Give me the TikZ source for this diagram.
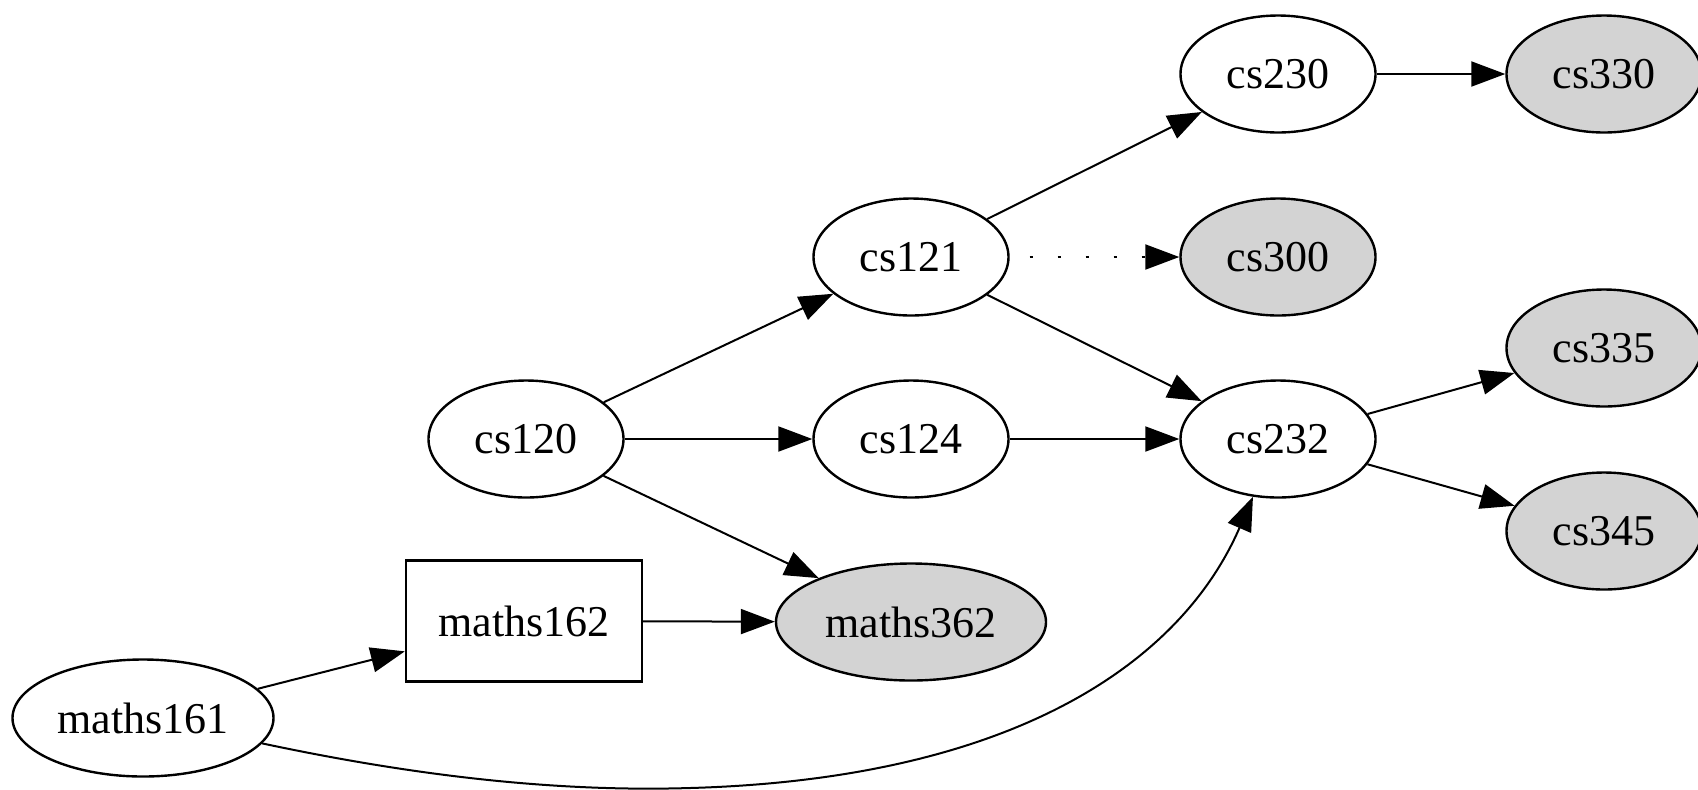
\documentclass[tikz,border=0pt]{standalone}
\usepackage{fontspec}
\setmainfont{Liberation Serif}
\usetikzlibrary{shapes.geometric,arrows.meta}
\definecolor{ngray}{HTML}{D3D3D3}
\begin{document}
\begin{tikzpicture}[x=0.5pt,y=-0.5pt,
  every node/.style={font=\fontsize{22}{26}\selectfont, inner sep=0pt},
  cnode/.style={ellipse, draw, line width=1.2pt, minimum width=97.5pt, minimum height=58.5pt},
  leaf/.style={cnode, fill=ngray},
  boxnode/.style={rectangle, draw, line width=1.2pt, minimum width=118pt, minimum height=60.5pt},
  edge/.style={line width=1pt, -{Triangle[length=17pt,width=12.5pt]}},
  dotedge/.style={edge, dash pattern=on 1.5pt off 12.5pt, dash phase=-10pt},
  ]
\fill[white] (0,0) rectangle (1698,789);
\useasboundingbox (0,0) rectangle (1698,789);
% nodes
\node[cnode] (cs230) at (1278,74) {cs230};
\node[leaf]  (cs330) at (1604,74) {cs330};
\node[cnode] (cs121) at (911,257) {cs121};
\node[leaf]  (cs300) at (1278,257) {cs300};
\node[leaf]  (cs335) at (1604,348) {cs335};
\node[cnode] (cs120) at (526,439) {cs120};
\node[cnode] (cs124) at (911,439) {cs124};
\node[cnode] (cs232) at (1278,439) {cs232};
\node[leaf]  (cs345) at (1604,531) {cs345};
\node[boxnode] (maths162) at (524,621) {maths162};
\node[leaf, minimum width=135pt] (maths362) at (911,622) {maths362};
\node[cnode, minimum width=130.5pt] (maths161) at (143,718) {maths161};
% edges
\draw[edge] (cs230) -- (cs330);
\draw[edge] (cs121) -- (cs230);
\draw[dotedge] (cs121) -- (cs300);
\draw[edge] (cs121) -- (cs232);
\draw[edge] (cs120) -- (cs121);
\draw[edge] (cs120) -- (cs124);
\draw[edge] (cs120) -- (maths362);
\draw[edge] (cs124) -- (cs232);
\draw[edge] (cs232) -- (cs335);
\draw[edge] (cs232) -- (cs345);
\draw[edge] (maths162) -- (maths362);
\draw[edge] (maths161) -- (maths162);
\coordinate (mid) at (690,788);
\draw[edge] (maths161) .. controls (420,777) and (560,792) .. (mid)
  .. controls (1010,779) and (1180,665) .. (cs232);
\end{tikzpicture}
\end{document}
